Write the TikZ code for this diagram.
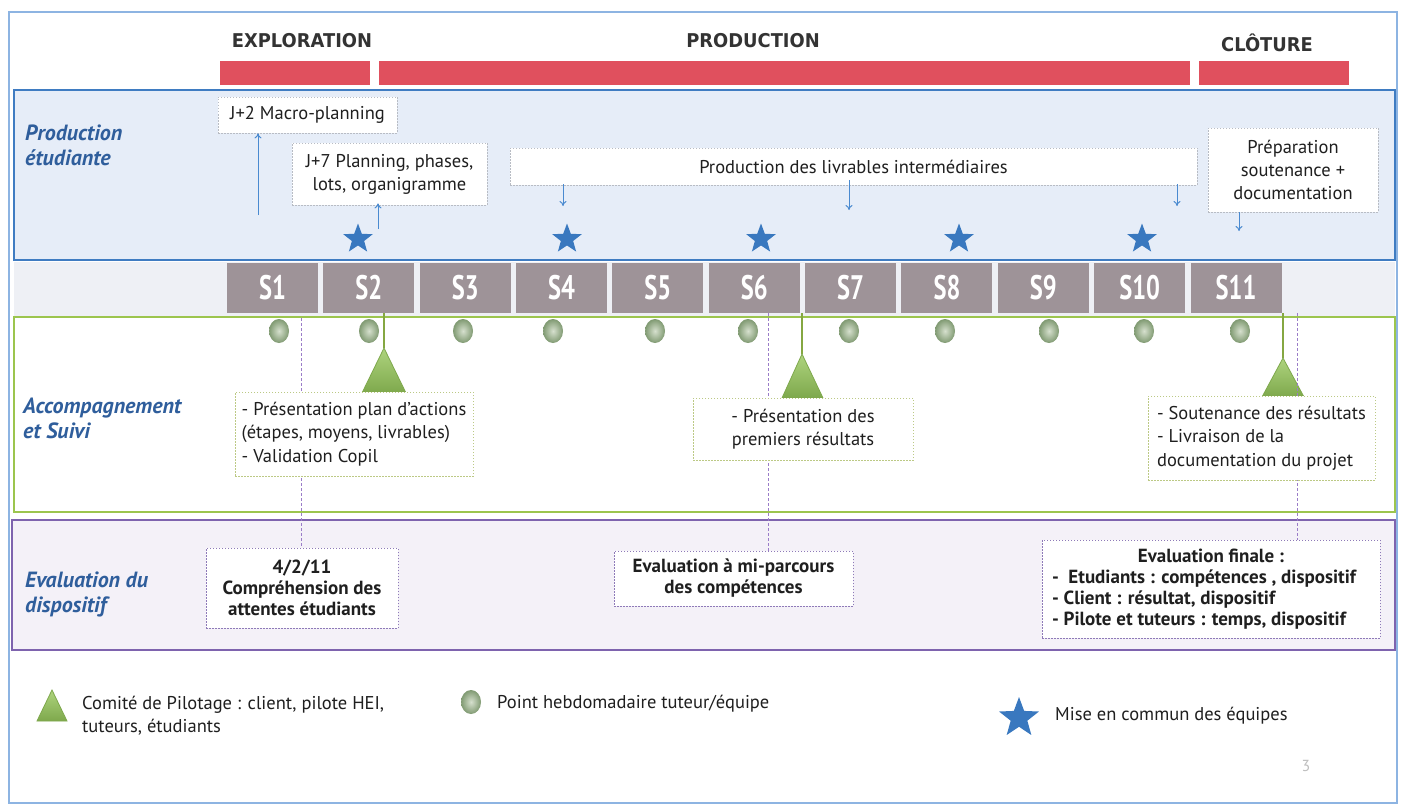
\documentclass[tikz,border=0pt]{standalone}
\usepackage{fontspec}
\setmainfont{PT Sans}
\newfontfamily\headfont{DejaVu Sans}
\usetikzlibrary{shapes.geometric,arrows.meta,calc}
\definecolor{frameblue}{HTML}{8DB4E2}
\definecolor{prodblue}{HTML}{3F7CC2}
\definecolor{prodfill}{HTML}{E6EDF8}
\definecolor{redbar}{HTML}{E0505E}
\definecolor{sgray}{HTML}{9E9398}
\definecolor{sband}{HTML}{EEF0F5}
\definecolor{accgreen}{HTML}{9CC54E}
\definecolor{evalpurple}{HTML}{7E63AE}
\definecolor{evalfill}{HTML}{F4F1F8}
\definecolor{labelblue}{HTML}{2F5E9C}
\definecolor{starblue}{HTML}{3978BF}
\definecolor{arrowblue}{HTML}{4A8AD0}
\definecolor{dashgreen}{HTML}{BCC985}
\definecolor{dashpurple}{HTML}{8E7AB8}
\definecolor{dlinecol}{HTML}{9A7CC8}
\definecolor{dashgray}{HTML}{B8BCC4}
\definecolor{textdark}{HTML}{1F1F1F}
\definecolor{headdark}{HTML}{333333}
\definecolor{ballin}{HTML}{D6E0CE}
\definecolor{ballout}{HTML}{809A72}
\definecolor{trilight}{HTML}{AED47E}
\definecolor{tridark}{HTML}{7EA84C}
\newcommand\fsz[2]{\fontsize{#1}{#2}\selectfont}
\begin{document}
\begin{tikzpicture}[x=1pt,y=-1pt,
  heading/.style={font=\headfont\fsz{19}{20}\bfseries, text=headdark, inner sep=0, xscale=0.94},
  rowlabel/.style={font=\fsz{22}{25}\bfseries\itshape, text=labelblue, align=left, anchor=west, inner sep=0},
  dotbox/.style={draw=dashgray, dash pattern=on 1.5pt off 1.5pt, line width=0.8pt, fill=white, text=textdark, font=\fsz{18.5}{23}, align=center, inner sep=0},
  accbox/.style={draw=dashgreen, dash pattern=on 1.5pt off 1.5pt, line width=0.9pt, fill=white, text=textdark, font=\fsz{18.5}{23.5}, inner sep=0},
  evbox/.style={draw=dashpurple, dash pattern=on 1.5pt off 1.5pt, line width=0.9pt, fill=white, text=textdark, font=\fsz{19}{21}\bfseries, inner sep=0},
  arr/.style={draw=arrowblue, line width=1pt, -{To[length=5pt,width=7pt]}},
  starmark/.style={star, star points=5, star point ratio=2.4, fill=starblue, minimum size=31pt, inner sep=0},
  sbox/.style={fill=sgray, minimum width=91pt, minimum height=50pt, text=white, font=\fsz{34}{34}\bfseries, inner sep=0},
  ballmark/.style={ellipse, shading=radial, inner color=ballin, outer color=ballout, minimum width=20pt, minimum height=24pt, inner sep=0},
  dline/.style={draw=dlinecol, dash pattern=on 3pt off 2pt, line width=0.8pt},
  copil/.style={draw=tridark, line width=0.8pt, top color=trilight, bottom color=tridark},
  copilline/.style={draw=accgreen!85!black, line width=1.6pt},
  legtext/.style={font=\fsz{18.5}{23}, text=textdark, align=left, anchor=west, inner sep=0}
]
\useasboundingbox (0,0) rectangle (1407,805);
\fill[white] (0,0) rectangle (1407,805);
\draw[frameblue, line width=1.5pt] (9,12) rectangle (1397,803);

% phases
\node[heading] (hexp) at (302,41) {EXPLORATION};
\node[heading] (hprod) at (753,41) {PRODUCTION};
\node[heading] (hclo) at (1267,43) {CLÔTURE};
\fill[redbar] (220,61) rectangle (370,85);
\fill[redbar] (379,61) rectangle (1190,85);
\fill[redbar] (1199,61) rectangle (1349,85);

% bands
\draw[prodblue, line width=2.5pt, fill=prodfill] (14,90) rectangle (1395,260);
\fill[sband] (14,262) rectangle (1395,316);
\draw[accgreen, line width=2.5pt, fill=white] (14,317) rectangle (1395,512);
\draw[evalpurple, line width=2.5pt, fill=evalfill] (12,520) rectangle (1395,650);

\node[rowlabel] (lprod) at (25,145) {Production\\étudiante};
\node[rowlabel] (lacc) at (23,418) {Accompagnement\\et Suivi};
\node[rowlabel] (leval) at (25,594) {Evaluation du\\dispositif};

% production row
\node[dotbox, minimum width=179pt, minimum height=36pt] (macro) at (307.5,115) {J+2 Macro-planning};
\node[dotbox, minimum width=195pt, minimum height=62pt] (jsept) at (389.5,174) {J+7\ Planning, phases,\\lots, organigramme};
\node[dotbox, minimum width=687pt, minimum height=37pt] (livr) at (853.5,166.5) {Production des livrables intermédiaires};
\node[dotbox, minimum width=170pt, minimum height=84pt] (prep) at (1293,170) {Préparation\\soutenance +\\documentation};

\coordinate (ua) at (258,215);
\coordinate (ub) at (378,229);
\coordinate (da) at (563,206);
\coordinate (db) at (849,210);
\coordinate (dc) at (1177,206);
\coordinate (dd) at (1239,231);
\draw[arr] (ua) -- (ua |- macro.south);
\draw[arr] (ub) -- ([yshift=2pt]ub |- jsept.south);
\draw[arr] ([yshift=1pt]da |- livr.south) -- (da);
\draw[arr] ([yshift=5pt]db |- livr.south) -- (db);
\draw[arr] ([yshift=1pt]dc |- livr.south) -- (dc);
\draw[arr] (dd |- prep.south) -- (dd);

\node[starmark] (st1) at (358,239) {};
\node[starmark] (st2) at (567,239) {};
\node[starmark] (st3) at (761,239) {};
\node[starmark] (st4) at (959,239) {};
\node[starmark] (st5) at (1142,239) {};

% weeks
\foreach \i in {1,...,11}{
  \node[sbox] (s\i) at ({272.5+(\i-1)*96.35},288) {\scalebox{0.72}[1]{S\i}};
}

% weekly points
\foreach \i/\xx in {1/279,2/369,3/463,4/553,5/655,6/748,7/849,8/945,9/1049,10/1144,11/1240}{
  \node[ballmark] (b\i) at (\xx,331) {};
}

% copil
\coordinate (ca) at (384,348);
\coordinate (cb) at (802,354);
\coordinate (cc) at (1283,358);
\draw[copilline] (ca |- s2.south) -- (ca);
\draw[copilline] (cb |- s7.south) -- (cb);
\draw[copilline] (cc |- s11.south) -- (cc);
\path[copil] (ca) -- (406,393) -- (362,393) -- cycle;
\path[copil] (cb) -- (823,398) -- (782,398) -- cycle;
\path[copil] (cc) -- (1304,397) -- (1262,397) -- cycle;

% evaluation boxes
\node[evbox, minimum width=192pt, minimum height=80pt, align=center] (ev1) at (302,588) {4/2/11\\Compréhension des\\attentes étudiants};
\node[evbox, minimum width=239pt, minimum height=55pt, align=center] (ev2) at (733.5,578.5) {Evaluation à mi-parcours\\des compétences};
\node[evbox, minimum width=338pt, minimum height=98pt, align=left] (ev3) at (1211,589) {\makebox[318pt][c]{Evaluation finale :}\\-\ \ Etudiants : compétences , dispositif\\- Client : résultat, dispositif\\- Pilote et tuteurs : temps, dispositif};

% dashed links
\coordinate (la) at (301,318);
\coordinate (lb) at (768,313);
\coordinate (lc) at (1297,313);
\draw[dline] (la) -- (la |- ev1.north);
\draw[dline] (lb) -- (lb |- ev2.north);
\draw[dline] (lc) -- (lc |- ev3.north);

% accompagnement boxes
\node[accbox, minimum width=238pt, minimum height=84pt, align=left] (ac1) at (354,434) {- Présentation plan d'actions\\(étapes, moyens, livrables)\\- Validation Copil};
\node[accbox, minimum width=220pt, minimum height=62pt, align=center] (ac2) at (803,429) {- Présentation des\\premiers résultats};
\node[accbox, minimum width=227pt, minimum height=84pt, align=left] (ac3) at (1261.5,438) {- Soutenance des résultats\\- Livraison de la\\documentation du projet};

% legend
\path[copil] (52,690) -- (67,721) -- (37,721) -- cycle;
\node[legtext] (lg1) at (82,716) {Comité de Pilotage : client, pilote HEI,\\tuteurs, étudiants};
\node[ballmark] (lgb) at (471,702) {};
\node[legtext] (lg2) at (497,704) {Point hebdomadaire tuteur/équipe};
\node[starmark, minimum size=42pt] (lgs) at (1019,718) {};
\node[legtext] (lg3) at (1055,716) {Mise en commun des équipes};
\node[text=gray!50, font=\fsz{16}{16}] (pg) at (1306,766) {3};
\end{tikzpicture}
\end{document}
